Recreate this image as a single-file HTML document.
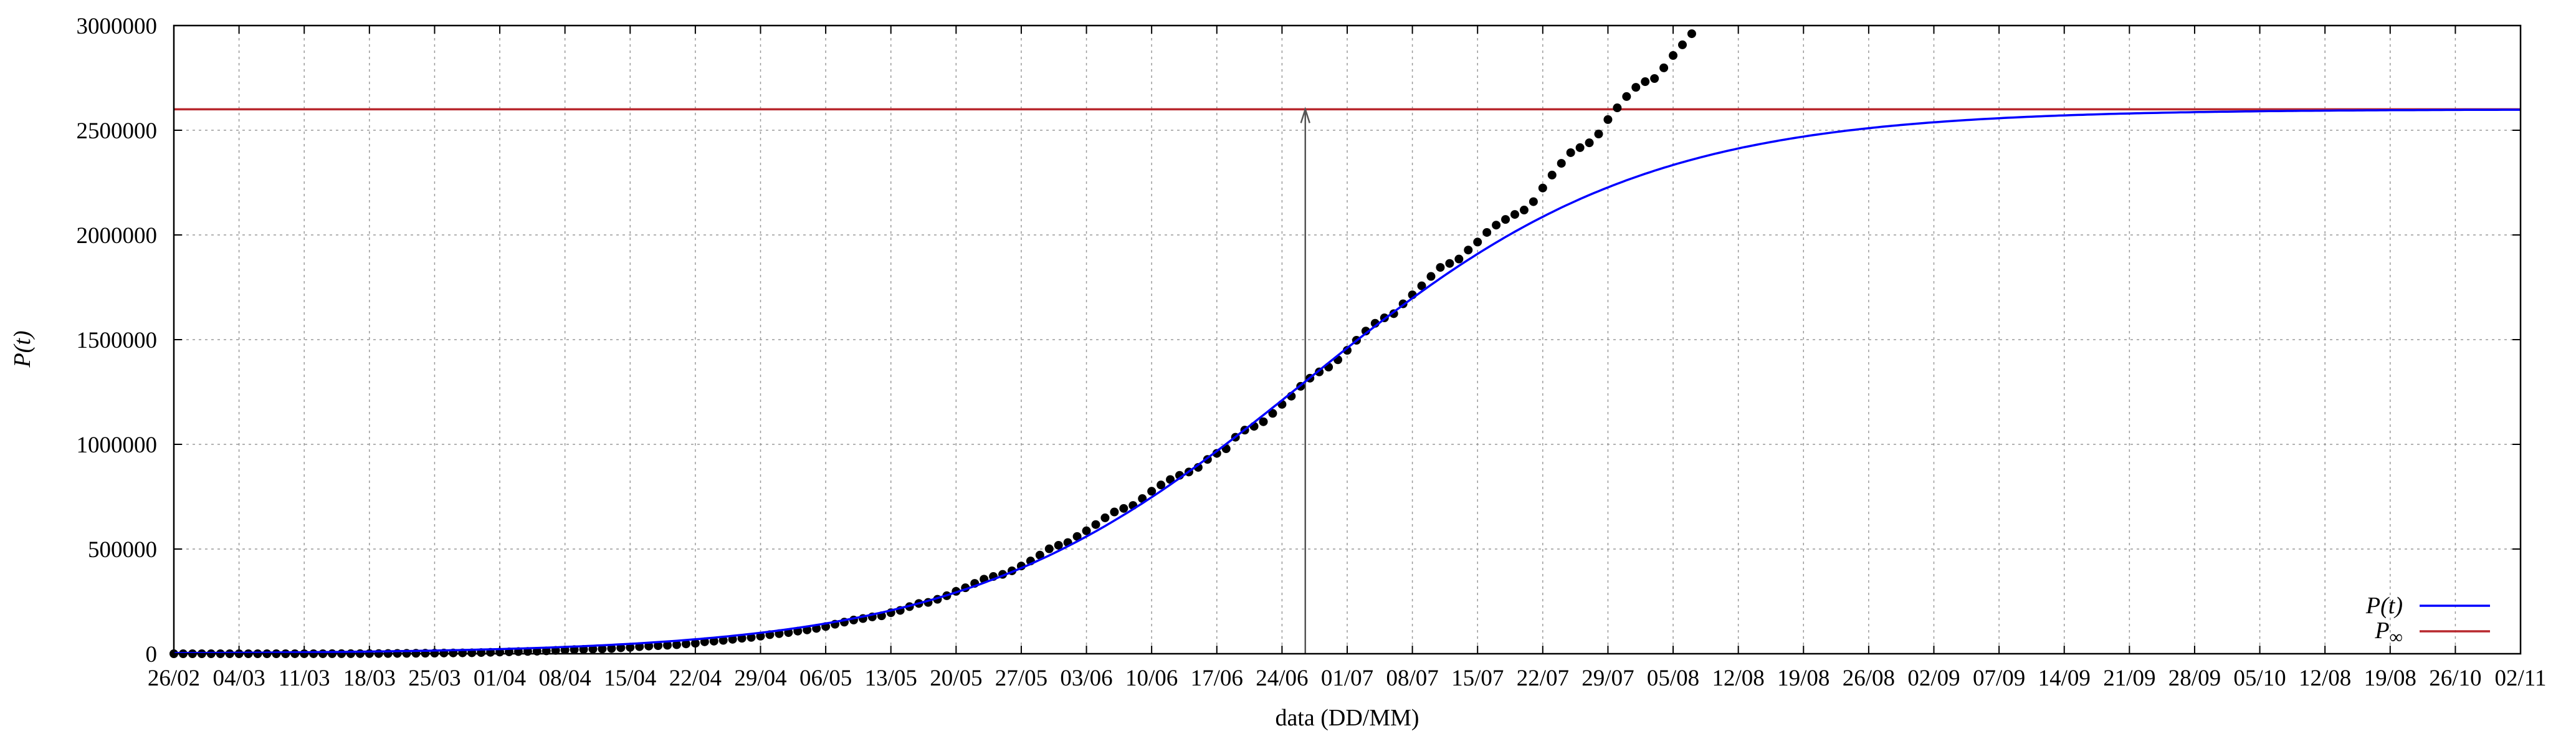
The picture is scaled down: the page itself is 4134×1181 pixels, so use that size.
<!DOCTYPE html>
<html><head><meta charset="utf-8"><style>
html,body{margin:0;padding:0;background:#fff;}
svg{display:block;}
text{font-family:"Liberation Serif",serif;fill:#000;}
</style></head><body>
<svg id="chart" width="4134" height="1181" viewBox="0 0 4134 1181" xmlns="http://www.w3.org/2000/svg">
<rect x="0" y="0" width="4134" height="1181" fill="#fff"/>
<g id="grid"></g>
<g id="xticks"></g>
<g id="yticks"></g>
<g id="series"></g>
<rect x="279" y="41" width="3766" height="1008" fill="none" stroke="#000" stroke-width="2.5"/>
<text transform="translate(48,560) rotate(-90)" text-anchor="middle" font-size="38" font-style="italic">P(t)</text>
<text x="2162" y="1164" text-anchor="middle" font-size="38">data (DD/MM)</text>
<g>
<text x="3856" y="984" text-anchor="end" font-size="38" font-style="italic">P(t)</text>
<line x1="3883" y1="972" x2="3996" y2="972" stroke="#0000ff" stroke-width="3.5"/>
<text x="3856" y="1024" text-anchor="end" font-size="38" font-style="italic">P<tspan font-style="normal" font-size="30" dy="8">∞</tspan></text>
<line x1="3883" y1="1013" x2="3996" y2="1013" stroke="#b8282e" stroke-width="3.5"/>
</g>
</svg>
<script>
const xTickLabels = ["26/02","04/03","11/03","18/03","25/03","01/04","08/04","15/04","22/04","29/04","06/05","13/05","20/05","27/05","03/06","10/06","17/06","24/06","01/07","08/07","15/07","22/07","29/07","05/08","12/08","19/08","26/08","02/09","07/09","14/09","21/09","28/09","05/10","12/08","19/08","26/10","02/11"];
const yTickValues = [0,500000,1000000,1500000,2000000,2500000,3000000];
const observed = [1,1,1,2,2,2,3,4,13,13,
25,25,34,52,77,98,121,200,234,291,
428,621,904,1128,1546,1891,2201,2433,2915,3417,
3904,4256,4579,5717,6836,7910,9056,10278,11130,12056,
13717,15927,17857,19638,20727,22169,23430,25262,28320,30425,
33682,36599,38654,40581,43079,47000,50000,57000,60000,64000,
69000,74000,78000,84000,91000,96000,101000,108000,114000,121000,
130000,141000,151000,161000,168000,176000,181000,196000,207000,225000,
240000,245000,260000,277000,298000,315000,336000,356000,369000,379000,
396000,419000,443000,471000,501000,518000,531000,560000,587000,617000,
649000,677000,694000,708000,741000,776000,806000,832000,852000,868000,
890000,928000,957000,979000,1034000,1068000,1086000,1108000,1148000,1191000,
1230000,1277000,1316000,1346000,1369000,1404000,1449000,1497000,1541000,1578000,
1604000,1624000,1671000,1714000,1757000,1802000,1845000,1864000,1885000,1928000,
1966000,2012000,2047000,2074000,2098000,2119000,2159000,2224000,2286000,2342000,
2393000,2417000,2440000,2482000,2551000,2607000,2661000,2705000,2732000,2747000,
2798000,2857000,2908000,2961000];
const K = [2600000];
const growthRate = [0.055];
const inflectionDay = [121.5];
const totalDays = [252];

const NS="http://www.w3.org/2000/svg";
const X0=279,X1=4045,Y0=1049,Y1=41,YMAX=3000000;
const xs=d=>X0+(X1-X0)*d/totalDays[0];
const ys=v=>Y0-(Y0-Y1)*v/YMAX;
function mk(tag,attrs,parent){const e=document.createElementNS(NS,tag);for(const k in attrs)e.setAttribute(k,attrs[k]);parent.appendChild(e);return e;}
const grid=document.getElementById('grid'),xt=document.getElementById('xticks'),yt=document.getElementById('yticks'),ser=document.getElementById('series');

xTickLabels.forEach((lab,i)=>{
  const x=xs(i*7);
  if(i>0&&i<xTickLabels.length-1){
    const g=mk('line',{x1:x,y1:Y1,x2:x,y2:Y0,stroke:'#999','stroke-width':1.5,'stroke-dasharray':'4,6'},grid);
    
    
  }
  const t1=mk('line',{x1:x,y1:Y0,x2:x,y2:Y0-13,stroke:'#000','stroke-width':2},xt);
  
  
  const t2=mk('line',{x1:x,y1:Y1,x2:x,y2:Y1+13,stroke:'#000','stroke-width':2},xt);
  
  
  const tx=mk('text',{x:x,y:1100,'text-anchor':'middle','font-size':37},xt);
  tx.textContent=lab;
  
  
});
yTickValues.forEach(v=>{
  const y=ys(v);
  if(v>0&&v<YMAX){
    const g=mk('line',{x1:X0,y1:y,x2:X1,y2:y,stroke:'#999','stroke-width':1.5,'stroke-dasharray':'4,6'},grid);
    
    
  }
  const t1=mk('line',{x1:X0,y1:y,x2:X0+13,y2:y,stroke:'#000','stroke-width':2},yt);
  
  
  const t2=mk('line',{x1:X1,y1:y,x2:X1-13,y2:y,stroke:'#000','stroke-width':2},yt);
  
  
  const tx=mk('text',{x:252,y:y+13,'text-anchor':'end','font-size':37},yt);
  tx.textContent=String(v);
  
  
});
const pinf=mk('line',{x1:X0,y1:ys(K[0]),x2:X1,y2:ys(K[0]),stroke:'#b8282e','stroke-width':3.5},ser);


const ax=xs(inflectionDay[0]),ay=ys(K[0]);
const arr=mk('path',{d:`M${ax},${Y0} L${ax},${ay} M${ax-7},${ay+22} L${ax},${ay} L${ax+7},${ay+22}`,stroke:'#555',fill:'none','stroke-width':2.5},ser);


observed.forEach((v,i)=>{
  const c=mk('circle',{cx:xs(i),cy:ys(v),r:7,fill:'#000'},ser);
  
  
});
let d='';
for(let t=0;t<=totalDays[0];t+=0.5){
  const v=K[0]/(1+Math.exp(-growthRate[0]*(t-inflectionDay[0])));
  d+=(t===0?'M':'L')+xs(t).toFixed(1)+','+ys(v).toFixed(1);
}
const curve=mk('path',{d:d,stroke:'#0000ff',fill:'none','stroke-width':3.5},ser);


</script>
</body></html>
